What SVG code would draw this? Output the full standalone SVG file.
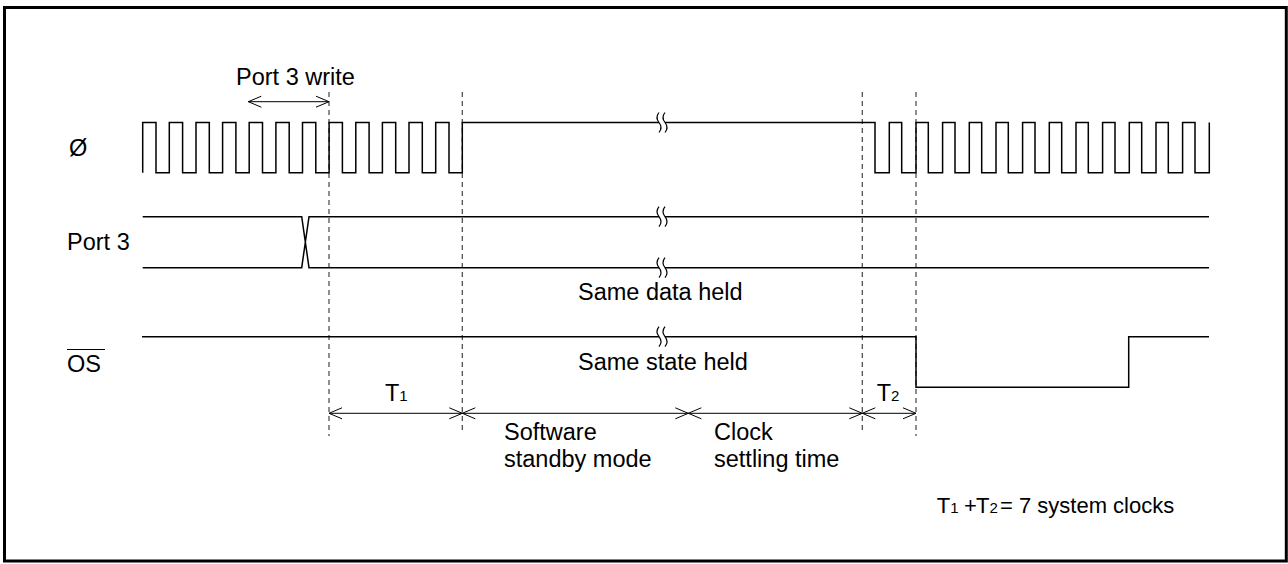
<svg xmlns="http://www.w3.org/2000/svg" width="1288" height="564" viewBox="0 0 1288 564">
<style>
.t{font-family:"Liberation Sans",Arial,sans-serif;font-size:23.5px;fill:#000}
.sub{font-size:15px}
.w{fill:none;stroke:#000;stroke-width:1.5}
.brk{fill:none;stroke:#000;stroke-width:1.2}
.dash{stroke:#444;stroke-width:1.2;stroke-dasharray:5 4}
.arr{fill:none;stroke:#000;stroke-width:1;marker-start:url(#ah);marker-end:url(#ah)}
</style>
<defs>
<marker id="ah" viewBox="-14 -7 16 14" refX="0" refY="0" markerWidth="16" markerHeight="14" markerUnits="userSpaceOnUse" orient="auto-start-reverse">
<path d="M-13,-5.5 L0,0 L-13,5.5" fill="none" stroke="#000" stroke-width="1"/>
</marker>
</defs>
<rect x="4.5" y="7.5" width="1281.8" height="553.5" fill="#fff" stroke="#000" stroke-width="3"/>

<g id="guides">
<line class="dash" x1="329" y1="92" x2="329" y2="436"/>
<line class="dash" x1="462.3" y1="92" x2="462.3" y2="434"/>
<line class="dash" x1="862.3" y1="92" x2="862.3" y2="434"/>
<line class="dash" x1="916" y1="92" x2="916" y2="436"/>
</g>

<g id="clock">
<text class="t" x="69" y="155.5">Ø</text>
<path class="w" d="M142.7,172.8 V122.5 H156 V172.8 H169.3 V122.5 H182.6 V172.8 H196 V122.5 H209.3 V172.8 H222.6 V122.5 H235.9 V172.8 H249.2 V122.5 H262.5 V172.8 H275.9 V122.5 H289.2 V172.8 H302.5 V122.5 H315.8 V172.8 H329.1 V122.5 H342.4 V172.8 H355.8 V122.5 H369.1 V172.8 H382.4 V122.5 H395.7 V172.8 H409 V122.5 H422.3 V172.8 H435.7 V122.5 H449 V172.8 H462.3 V122.5 H659"/>
<path class="w" d="M665,122.5 H875 V172.8 H889.3 V122.5 H901.7 V172.8 H916 V122.5 H928.3 V172.8 H942.6 V122.5 H955 V172.8 H969.3 V122.5 H981.7 V172.8 H996 V122.5 H1008.3 V172.8 H1022.6 V122.5 H1035 V172.8 H1049.3 V122.5 H1061.7 V172.8 H1076 V122.5 H1088.3 V172.8 H1102.6 V122.5 H1115 V172.8 H1129.3 V122.5 H1141.7 V172.8 H1156 V122.5 H1168.3 V172.8 H1182.6 V122.5 H1195 V172.8 H1209.3 V122.5"/>
<path class="brk" d="M659,112.5 q-4,5 0,10 q4,5 0,10 M665,112.5 q-4,5 0,10 q4,5 0,10"/>
</g>

<g id="port3">
<text class="t" x="67" y="250">Port 3</text>
<path class="w" d="M142.7,216.7 H301.7 L309,267.7 H659 M142.7,267.7 H301.7 L309,216.7 H659 M665,216.7 H1209 M665,267.7 H1209"/>
<path class="brk" d="M659,206.7 q-4,5 0,10 q4,5 0,10 M665,206.7 q-4,5 0,10 q4,5 0,10 M659,257.7 q-4,5 0,10 q4,5 0,10 M665,257.7 q-4,5 0,10 q4,5 0,10"/>
<text class="t" x="578" y="300">Same data held</text>
</g>

<g id="os">
<text class="t" x="67" y="371.7">OS</text>
<line x1="67" y1="349.5" x2="105" y2="349.5" stroke="#000" stroke-width="1.2"/>
<path class="w" d="M142,336.7 H659 M665,336.7 H916 V387.3 H1128.7 V336.7 H1209"/>
<path class="brk" d="M659,326.7 q-4,5 0,10 q4,5 0,10 M665,326.7 q-4,5 0,10 q4,5 0,10"/>
<text class="t" x="578" y="370">Same state held</text>
</g>

<g id="connectors">
<line class="arr" x1="248.3" y1="101.7" x2="329" y2="101.7"/>
<line class="arr" x1="329" y1="413.3" x2="462.3" y2="413.3"/>
<line class="arr" x1="462.3" y1="413.3" x2="688.3" y2="413.3"/>
<line class="arr" x1="688.3" y1="413.3" x2="862.3" y2="413.3"/>
<line class="arr" x1="862.3" y1="413.3" x2="916" y2="413.3"/>
</g>

<g id="labels">
<text class="t" x="236" y="85">Port 3 write</text>
<text class="t" x="385" y="400.7">T<tspan class="sub">1</tspan></text>
<text class="t" x="876.7" y="400.7">T<tspan class="sub">2</tspan></text>
<text class="t" x="504" y="440">Software</text>
<text class="t" x="504" y="466.7">standby mode</text>
<text class="t" x="714" y="440">Clock</text>
<text class="t" x="714" y="466.7">settling time</text>
<text class="t" y="513.3" style="font-size:22px"><tspan x="936.7">T</tspan><tspan class="sub">1</tspan><tspan x="964">+</tspan><tspan x="976">T</tspan><tspan class="sub">2</tspan><tspan x="1000">= 7 system clocks</tspan></text>
</g>
</svg>
